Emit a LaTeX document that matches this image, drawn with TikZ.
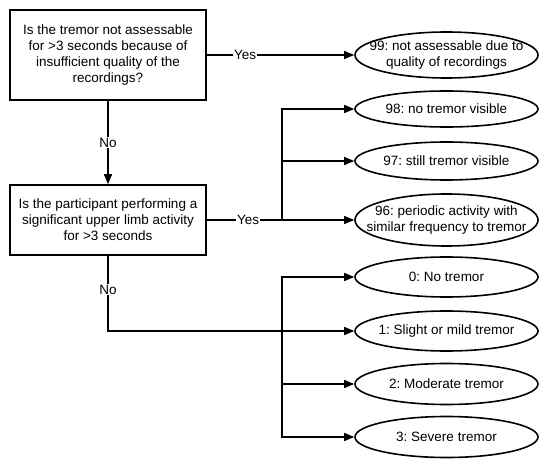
\documentclass[tikz,border=0pt]{standalone}
\usepackage{fontspec}
\setmainfont{Liberation Sans}
\usetikzlibrary{shapes.geometric,arrows.meta}
\frenchspacing
\begin{document}
\begin{tikzpicture}[x=1pt,y=-1pt,
  every node/.style={font=\fontsize{13.5}{16}\selectfont\frenchspacing},
  qbox/.style={draw,line width=1.6pt,minimum width=196pt,align=center,inner sep=0pt},
  oval/.style={draw,ellipse,line width=1.6pt,minimum width=183pt,inner sep=0pt},
  otext/.style={align=center,inner sep=0pt},
  conn/.style={line width=1.5pt},
  arr/.style={conn,-{Triangle[length=10pt,width=8pt]}},
  lbl/.style={fill=white,inner sep=1pt}]
\useasboundingbox (0,0) rectangle (550,468);

\node[qbox,minimum height=90pt] (b1) at (108,55) {Is the tremor not assessable\\for >3 seconds because of\\insufficient quality of the\\recordings?};
\node[qbox,minimum height=70pt] (b2) at (108,220) {Is the participant performing a\\significant upper limb activity\\for >3 seconds};

\node[oval,minimum height=46pt] (e99) at (446.5,55) {};
\node[otext] (t99) at (e99.center) {99: not assessable due to\\quality of recordings};
\node[oval,minimum height=36pt] (e98) at (446.5,109) {};
\node[otext] (t98) at (e98.center) {98: no tremor visible};
\node[oval,minimum height=38pt] (e97) at (446.5,161) {};
\node[otext] (t97) at (e97.center) {97: still tremor visible};
\node[oval,minimum height=52pt] (e96) at (446.5,220) {};
\node[otext] (t96) at (e96.center) {96: periodic activity with\\similar frequency to tremor};
\node[oval,minimum height=40pt] (e0) at (446.5,277) {};
\node[otext] (t0) at (e0.center) {0: No tremor};
\node[oval,minimum height=40pt] (e1) at (446.5,331) {};
\node[otext] (t1) at (e1.center) {1: Slight or mild tremor};
\node[oval,minimum height=41pt] (e2) at (446.5,384) {};
\node[otext] (t2) at (e2.center) {2: Moderate tremor};
\node[oval,minimum height=41pt] (e3) at (446.5,437) {};
\node[otext] (t3) at (e3.center) {3: Severe tremor};

\coordinate (j1) at (282,220);
\coordinate (j2) at (282,331);

\draw[arr] (b1.east) -- node[lbl,pos=0.26]{Yes} (e99.west);
\draw[arr] (b1.south) -- node[lbl]{No} (b2.north);

\draw[conn] (b2.east) -- node[lbl,pos=0.55]{Yes} (j1);
\draw[arr] (j1) -- (e96.west);
\draw[arr] (j1) |- (e98.west);
\draw[arr] (j1) |- (e97.west);

\draw[arr] (b2.south) |- node[lbl,pos=0.224]{No} (e1.west);
\draw[arr] (j2) |- (e0.west);
\draw[arr] (j2) |- (e2.west);
\draw[arr] (j2) |- (e3.west);
\end{tikzpicture}
\end{document}
